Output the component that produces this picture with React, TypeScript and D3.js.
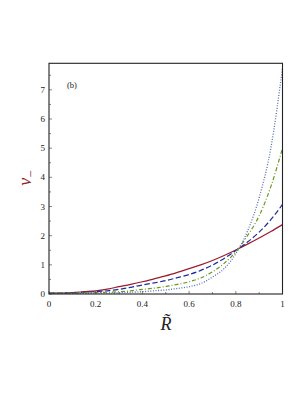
import React, { useEffect, useRef } from 'react';
import * as d3 from 'd3';

// R~ sample positions and the four curves
const rValues = [0, 0.05, 0.1, 0.15, 0.2, 0.25, 0.3, 0.35, 0.4, 0.45, 0.5, 0.55, 0.6, 0.65, 0.7, 0.75, 0.8, 0.85, 0.9, 0.95, 1.0];
const solidRed = [0.03, 0.035, 0.05, 0.08, 0.11, 0.17, 0.25, 0.33, 0.42, 0.52, 0.62, 0.74, 0.87, 1.0, 1.15, 1.32, 1.51, 1.71, 1.92, 2.14, 2.38];
const dashedBlue = [0.03, 0.03, 0.04, 0.06, 0.08, 0.11, 0.16, 0.23, 0.31, 0.38, 0.46, 0.56, 0.67, 0.81, 0.99, 1.22, 1.49, 1.78, 2.12, 2.55, 3.07];
const dashDotGreen = [0.03, 0.03, 0.03, 0.04, 0.05, 0.06, 0.08, 0.11, 0.16, 0.2, 0.26, 0.33, 0.42, 0.55, 0.76, 1.05, 1.45, 2.0, 2.68, 3.68, 5.0];
const dottedBlue = [0.03, 0.02, 0.02, 0.02, 0.03, 0.03, 0.04, 0.06, 0.08, 0.11, 0.14, 0.19, 0.25, 0.36, 0.58, 0.87, 1.38, 2.15, 3.3, 5.0, 7.75];

const xTicks = [0, 0.2, 0.4, 0.6, 0.8, 1];
const xTickLabels = ['0', '0.2', '0.4', '0.6', '0.8', '1'];
const yTicks = [0, 1, 2, 3, 4, 5, 6, 7];

const series = [
    { values: solidRed, color: '#9b1b2e', dash: null },
    { values: dashedBlue, color: '#1c2c9c', dash: '5.5,2.5' },
    { values: dashDotGreen, color: '#689a1c', dash: '4,2,1,2' },
    { values: dottedBlue, color: '#5a6cb4', dash: '1,1.6' },
];

const App: React.FC = () => {
    const svgRef = useRef<SVGSVGElement>(null);

    useEffect(() => {
        if (!svgRef.current) return;
        const svg = d3.select(svgRef.current);
        svg.selectAll('*').remove();

        // plot box
        const left = 49;
        const right = 282.5;
        const top = 63.3;
        const bottom = 294;

        const x = d3.scaleLinear().domain([0, 1]).range([left, right]);
        const y = d3.scaleLinear().domain([0, 7.91]).range([bottom, top]);

        const font = 'Liberation Serif, DejaVu Serif, serif';

        // curves
        const line = d3.line<number>()
            .x((_, i) => x(rValues[i]))
            .y(d => y(d))
            .curve(d3.curveMonotoneX);

        series.forEach(s => {
            const p = svg.append('path')
                .attr('d', line(s.values) as string)
                .attr('fill', 'none')
                .attr('stroke', s.color)
                .attr('stroke-width', s.dash === '1,1.6' ? 1.3 : 1.2);
            if (s.dash) p.attr('stroke-dasharray', s.dash);
        });

        // frame
        svg.append('rect')
            .attr('x', left)
            .attr('y', top)
            .attr('width', right - left)
            .attr('height', bottom - top)
            .attr('fill', 'none')
            .attr('stroke', '#222')
            .attr('stroke-width', 1.1);

        // x ticks (inward)
        d3.range(0, 1.0001, 0.1).forEach(t => {
            const major = Math.abs(Math.round(t * 5) - t * 5) < 1e-6;
            svg.append('line')
                .attr('x1', x(t)).attr('x2', x(t))
                .attr('y1', bottom).attr('y2', bottom - (major ? 3 : 2))
                .attr('stroke', '#333').attr('stroke-width', 0.6);
        });
        xTicks.forEach((t, i) => {
            svg.append('text')
                .attr('x', x(t))
                .attr('y', bottom + 13)
                .attr('text-anchor', 'middle')
                .style('font-family', font)
                .attr('font-size', '9px')
                .attr('fill', '#222')
                .text(xTickLabels[i]);
        });

        // y ticks (inward)
        d3.range(0, 7.51, 0.5).forEach(t => {
            const major = Number.isInteger(t);
            svg.append('line')
                .attr('x1', left).attr('x2', left + (major ? 3 : 2))
                .attr('y1', y(t)).attr('y2', y(t))
                .attr('stroke', '#333').attr('stroke-width', 0.6);
        });
        yTicks.forEach(t => {
            svg.append('text')
                .attr('x', left - 4)
                .attr('y', y(t) + 3)
                .attr('text-anchor', 'end')
                .style('font-family', font)
                .attr('font-size', '9px')
                .attr('fill', '#222')
                .text(t);
        });

        // panel label
        svg.append('text')
            .attr('x', 72)
            .attr('y', 88)
            .attr('text-anchor', 'middle')
            .style('font-family', font)
            .attr('font-size', '8.5px')
            .attr('fill', '#222')
            .text('(b)');

        // x axis title: R with tilde
        svg.append('text')
            .attr('x', 166)
            .attr('y', 330)
            .attr('text-anchor', 'middle')
            .style('font-family', font)
            .attr('font-size', '18px')
            .attr('font-style', 'italic')
            .attr('fill', '#222')
            .text('R\u0303');

        // y axis title: v_-
        const yt = svg.append('text')
            .attr('transform', 'translate(31,178) rotate(-90)')
            .attr('text-anchor', 'middle')
            .style('font-family', font)
            .attr('font-size', '18px')
            .attr('fill', '#8b2323');
        yt.append('tspan').attr('font-style', 'italic').text('v');
        yt.append('tspan').attr('font-size', '13px').attr('dy', 4).text('\u2212');
    }, []);

    return (
        <svg
            ref={svgRef}
            width="305"
            height="395"
            style={{ position: 'absolute', left: 0, top: 0, background: '#fff' }}
        ></svg>
    );
};

export default App;
